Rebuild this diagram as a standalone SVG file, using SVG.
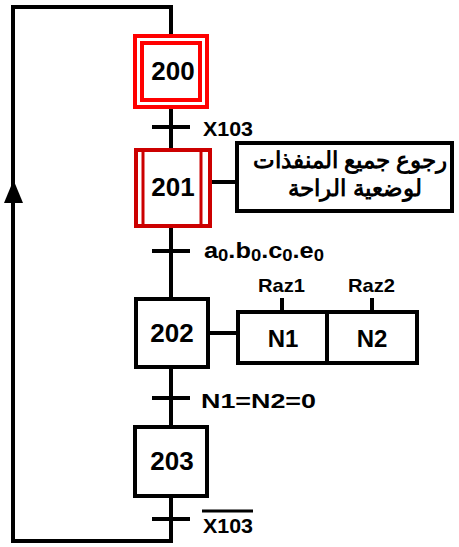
<svg xmlns="http://www.w3.org/2000/svg" width="459" height="547" viewBox="0 0 459 547">
<style>
.ln{stroke:#000;stroke-width:4;fill:none}
.box{stroke:#000;stroke-width:4;fill:#fff}
.t{font-family:"Liberation Sans",Arial,sans-serif;font-weight:bold;fill:#000}
.num{font-size:26px;text-anchor:middle}
.lbl{font-size:20px}
</style>
<g id="connectors">
<polyline class="ln" points="171,35 171,7 13,7 13,541 171,541 171,497"/>
<line class="ln" x1="171" y1="107" x2="171" y2="149"/>
<line class="ln" x1="171" y1="226" x2="171" y2="298"/>
<line class="ln" x1="171" y1="368" x2="171" y2="426"/>
<line class="ln" x1="152" y1="127" x2="190" y2="127"/>
<line class="ln" x1="152" y1="251" x2="190" y2="251"/>
<line class="ln" x1="152" y1="398" x2="190" y2="398"/>
<line class="ln" x1="152" y1="519" x2="190" y2="519"/>
<line class="ln" x1="211" y1="182" x2="236" y2="182"/>
<line class="ln" x1="209" y1="333" x2="237" y2="333"/>
<polygon points="13.5,180 4,203 23,203" fill="#000"/>
</g>
<g id="step200">
<rect x="135" y="36" width="72" height="71" fill="#fff" stroke="#ff0000" stroke-width="4"/>
<rect x="142" y="43" width="58" height="57" fill="none" stroke="#ff0000" stroke-width="4"/>
<text class="t num" x="173" y="80">200</text>
</g>
<g id="t1"><text class="t lbl" x="203" y="136" textLength="50" lengthAdjust="spacingAndGlyphs">X103</text></g>
<g id="step201">
<rect x="136" y="150" width="74" height="76" fill="#fff" stroke="#cc0000" stroke-width="4"/>
<line x1="143" y1="150" x2="143" y2="226" stroke="#cc0000" stroke-width="3"/>
<line x1="201" y1="150" x2="201" y2="226" stroke="#cc0000" stroke-width="3"/>
<text class="t num" x="173" y="196">201</text>
</g>
<g id="action201">
<rect class="box" x="237" y="143" width="215" height="68"/>
<text class="t" font-size="23" text-anchor="middle" x="350" y="168" direction="rtl">رجوع جميع المنفذات</text>
<text class="t" font-size="23" text-anchor="middle" x="355" y="196" direction="rtl">لوضعية الراحة</text>
</g>
<g id="t2"><text class="t" font-size="22" x="204" y="258" textLength="120" lengthAdjust="spacingAndGlyphs">a<tspan font-size="16" dy="3">0</tspan><tspan dy="-3">.b</tspan><tspan font-size="16" dy="3">0</tspan><tspan dy="-3">.c</tspan><tspan font-size="16" dy="3">0</tspan><tspan dy="-3">.e</tspan><tspan font-size="16" dy="3">0</tspan></text></g>
<g id="step202">
<rect class="box" x="136" y="299" width="72" height="68"/>
<text class="t num" x="172" y="342">202</text>
</g>
<g id="action202">
<rect class="box" x="238" y="312" width="179" height="51"/>
<line class="ln" x1="327" y1="312" x2="327" y2="363"/>
<line class="ln" x1="282" y1="298" x2="282" y2="312"/>
<line class="ln" x1="372" y1="298" x2="372" y2="312"/>
<text class="t" font-size="19" x="258" y="292" textLength="47" lengthAdjust="spacingAndGlyphs">Raz1</text>
<text class="t" font-size="19" x="348" y="292" textLength="47" lengthAdjust="spacingAndGlyphs">Raz2</text>
<text class="t" font-size="24" text-anchor="middle" x="283" y="347">N1</text>
<text class="t" font-size="24" text-anchor="middle" x="372" y="347">N2</text>
</g>
<g id="t3"><text class="t" font-size="21" x="201" y="408" textLength="115" lengthAdjust="spacingAndGlyphs">N1=N2=0</text></g>
<g id="step203">
<rect class="box" x="135" y="427" width="72" height="69"/>
<text class="t num" x="172" y="470">203</text>
</g>
<g id="t4">
<text class="t lbl" x="203" y="533" textLength="50" lengthAdjust="spacingAndGlyphs">X103</text>
<line x1="202" y1="511" x2="253" y2="511" stroke="#000" stroke-width="3"/>
</g>
</svg>
